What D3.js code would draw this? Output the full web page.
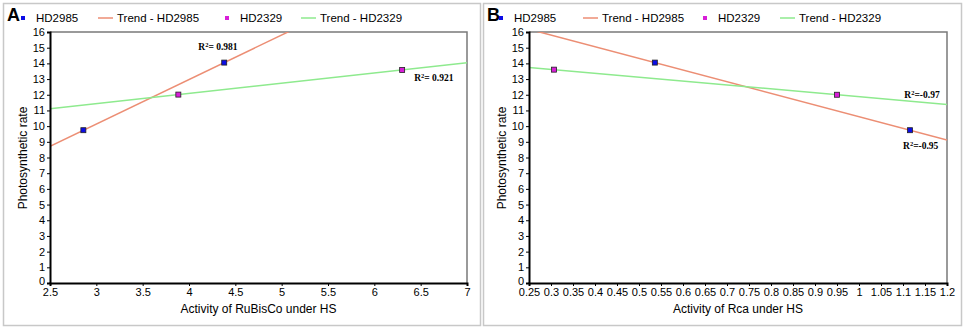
<!DOCTYPE html>
<html>
<head>
<meta charset="utf-8">
<script src="https://d3js.org/d3.v7.min.js"></script>
<style>
  body { margin: 0; background: #fff; }
  svg { font-family: Arial, "Liberation Sans", sans-serif; }
  .r2 { font-family: "Times New Roman", "Liberation Serif", serif; font-weight: bold; font-size: 9.5px; }
</style>
</head>
<body>
<svg width="964" height="330"></svg>
<script>
// Data
var rubiscoHD2985 = [2.86, 4.38];
var rateHD2985_A = [9.74, 14.05];
var rubiscoHD2329 = [3.885, 6.30];
var rateHD2329_A = [12.01, 13.58];

var rcaHD2985 = [0.536, 1.116];
var rateHD2985_B = [14.05, 9.74];
var rcaHD2329 = [0.307, 0.95];
var rateHD2329_B = [13.6, 12.0];

var yTicks = [0,1,2,3,4,5,6,7,8,9,10,11,12,13,14,15,16];
var xTicksA = [2.5,3,3.5,4,4.5,5,5.5,6,6.5,7];
var xTicksB = [0.25,0.3,0.35,0.4,0.45,0.5,0.55,0.6,0.65,0.7,0.75,0.8,0.85,0.9,0.95,1,1.05,1.1,1.15,1.2];

var legendNames = ["HD2985", "Trend - HD2985", "HD2329", "Trend - HD2329"];

var blue = "#0c0ce6", magenta = "#d81ed8";
var orange = "#ec8e74", green = "#8eea8e";

var svg = d3.select("svg");

// least squares fit
function fit(xs, ys) {
    var mx = d3.mean(xs), my = d3.mean(ys);
    var sxy = d3.sum(xs, (x, i) => (x - mx) * (ys[i] - my));
    var sxx = d3.sum(xs, x => (x - mx) * (x - mx));
    var b = sxy / sxx;
    return { a: my - b * mx, b: b };
}

function drawPanel(p) {
    var g = svg.append("g");

    // panel frame
    g.append("rect")
        .attr("x", p.box[0] + 0.5).attr("y", 3.5)
        .attr("width", p.box[1] - p.box[0]).attr("height", 322)
        .attr("fill", "none").attr("stroke", "#c8c8c8").attr("stroke-width", 1.5);

    var x = d3.scaleLinear().domain(p.xDomain).range([p.left, p.right]);
    var y = d3.scaleLinear().domain([0, 16]).range([283, 32]);

    // clip for trend lines
    g.append("clipPath").attr("id", "clip" + p.id)
        .append("rect")
        .attr("x", p.left).attr("y", 32)
        .attr("width", p.right - p.left).attr("height", 251);

    // top / right frame (grey)
    g.append("path")
        .attr("d", "M" + p.left + ",32H" + p.right + "V283")
        .attr("fill", "none").attr("stroke", "#7a7a7a").attr("stroke-width", 1.5);

    // trend lines
    var series = [
        { xs: p.x1, ys: p.y1, color: orange, fill: blue },
        { xs: p.x2, ys: p.y2, color: green, fill: magenta }
    ];
    series.forEach(function(s) {
        var f = fit(s.xs, s.ys);
        g.append("line")
            .attr("clip-path", "url(#clip" + p.id + ")")
            .attr("x1", x(p.xDomain[0])).attr("y1", y(f.a + f.b * p.xDomain[0]))
            .attr("x2", x(p.xDomain[1])).attr("y2", y(f.a + f.b * p.xDomain[1]))
            .attr("stroke", s.color).attr("stroke-width", 1.5);
    });
    series.forEach(function(s) {
        g.append("g").selectAll("rect")
            .data(s.xs)
            .enter().append("rect")
            .attr("x", (d, i) => x(d) - 2.5)
            .attr("y", (d, i) => y(s.ys[i]) - 2.5)
            .attr("width", 5).attr("height", 5)
            .attr("fill", s.fill)
            .attr("stroke", "#222").attr("stroke-width", 0.8);
    });

    // axes
    var yAxis = g.append("g")
        .attr("transform", "translate(" + p.left + ",0)")
        .call(d3.axisLeft(y).tickValues(yTicks).tickSize(3).tickPadding(2));
    var xAxis = g.append("g")
        .attr("transform", "translate(0,283)")
        .call(d3.axisBottom(x).tickValues(p.xTicks).tickSize(3).tickPadding(2)
            .tickFormat(d => String(+d.toFixed(2))));
    [yAxis, xAxis].forEach(function(a) {
        a.select(".domain").attr("stroke", "#000").attr("stroke-width", 2);
        a.selectAll(".tick line").attr("stroke", "#000");
        a.selectAll("text").attr("fill", "#000").style("font-size", "11px")
            .style("font-family", "Arial, 'Liberation Sans', sans-serif");
    });
    // the zero label sits just above the first x label
    yAxis.selectAll(".tick text").filter(d => d == 0).attr("dy", "0.1em");

    // axis titles
    g.append("text")
        .attr("x", (p.left + p.right) / 2).attr("y", 313)
        .attr("text-anchor", "middle").style("font-size", "12px")
        .text(p.xTitle);
    g.append("text")
        .attr("transform", "translate(" + (p.left - 23) + ",158) rotate(-90)")
        .attr("text-anchor", "middle").style("font-size", "12px")
        .text("Photosynthetic rate");

    // panel letter
    g.append("text")
        .attr("x", p.box[0] + 4).attr("y", 21)
        .style("font-size", "18px").style("font-weight", "bold")
        .text(p.id);

    // legend
    var lg = g.append("g").attr("transform", "translate(" + p.legendX + ",18)");
    legendNames.forEach(function(name, i) {
        var ox = p.legendOffsets[i];
        if (i % 2 == 0) {
            lg.append("rect")
                .attr("x", ox - 2).attr("y", -2)
                .attr("width", 4).attr("height", 4)
                .attr("fill", i == 0 ? blue : magenta);
            lg.append("text").attr("x", ox + 13).attr("y", 4)
                .style("font-size", "11.5px").text(name);
        } else {
            lg.append("line")
                .attr("x1", ox).attr("x2", ox + 15)
                .attr("y1", 0).attr("y2", 0)
                .attr("stroke", i == 1 ? orange : green).attr("stroke-width", 1.5);
            lg.append("text").attr("x", ox + 19).attr("y", 4)
                .style("font-size", "11.5px").text(name);
        }
    });

    // R squared labels
    p.r2.forEach(function(r) {
        var t = g.append("text").attr("class", "r2")
            .attr("x", x(r.x)).attr("y", y(r.y))
            .text("R");
        t.append("tspan").attr("baseline-shift", "super").style("font-size", "6.5px").text("2");
        t.append("tspan").text(r.label);
    });
}

drawPanel({
    id: "A", box: [3, 480], left: 50, right: 467,
    xDomain: [2.5, 7], xTicks: xTicksA,
    x1: rubiscoHD2985, y1: rateHD2985_A, x2: rubiscoHD2329, y2: rateHD2329_A,
    xTitle: "Activity of RuBisCo under HS",
    legendX: 23, legendOffsets: [0, 75, 204, 278],
    r2: [{ x: 4.1, y: 14.85, label: "= 0.981" }, { x: 6.43, y: 12.85, label: "= 0.921" }]
});

drawPanel({
    id: "B", box: [483, 961], left: 529, right: 947,
    xDomain: [0.25, 1.2], xTicks: xTicksB,
    x1: rcaHD2985, y1: rateHD2985_B, x2: rcaHD2329, y2: rateHD2329_B,
    xTitle: "Activity of Rca under HS",
    legendX: 501, legendOffsets: [0, 82, 204, 279],
    r2: [{ x: 1.103, y: 11.8, label: "=-0.97" }, { x: 1.1, y: 8.55, label: "=-0.95" }]
});
</script>
</body>
</html>
